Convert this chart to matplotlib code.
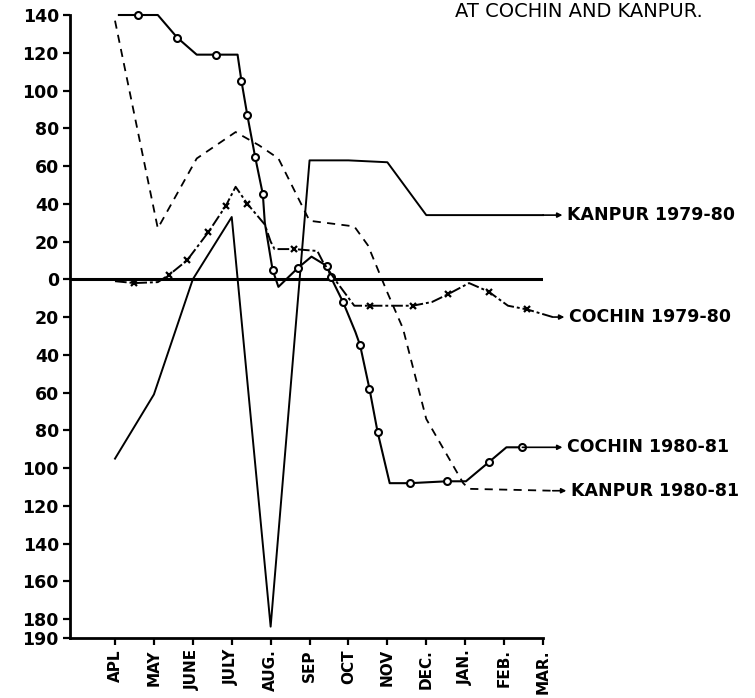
import matplotlib
matplotlib.use('Agg')
import matplotlib.pyplot as plt
from matplotlib.ticker import FuncFormatter

months = ['APL', 'MAY', 'JUNE', 'JULY', 'AUG.', 'SEP', 'OCT', 'NOV', 'DEC.', 'JAN.', 'FEB.', 'MAR.']

# Kanpur 1979-80, one value per month
kanpur79 = [-95, -61, 0, 33, -184, 63, 63, 62, 34, 34, 34, 34]

# Kanpur 1980-81
kanpur80_x = [0, 1.1, 2.1, 3.1, 3.7, 4.2, 5.0, 6.15, 6.5, 7.0, 7.4, 8.0, 8.95, 9.1, 11.25]
kanpur80_y = [137, 27, 64, 78, 71, 64, 31, 28, 18, -7, -26, -74, -108, -111, -112]

# Cochin 1980-81
cochin80_x = [0.1, 0.6, 1.1, 1.6, 2.1, 2.6, 3.15, 3.25, 3.4, 3.6, 3.8, 3.85, 4.05, 4.2, 4.7,
              5.05, 5.45, 5.55, 5.68, 5.86, 6.18, 6.3, 6.54, 6.75, 7.06, 7.58, 8.53, 9.02,
              9.6, 10.06, 10.47]
cochin80_y = [140, 140, 140, 128, 119, 119, 119, 105, 87, 65, 45, 30, 5, -4, 6,
              12, 7, 1, -4.5, -12, -28, -35, -58, -81, -108, -108, -107, -107,
              -97, -89, -89]

# Cochin 1979-80
cochin79_x = [0.0, 0.5, 1.1, 1.4, 1.85, 2.4, 2.85, 3.1, 3.4, 3.85, 4.0, 4.1, 4.6, 5.2, 5.35,
              5.7, 6.15, 6.55, 7.65, 8.15, 8.55, 9.1, 9.6, 10.1, 10.6, 11.25]
cochin79_y = [-1, -2, -1.5, 2.5, 10, 25, 39, 49, 40, 29, 20, 16, 16, 15, 9,
              -1.5, -14, -14, -14, -12, -8, -2, -6.5, -14, -16, -20]

yticks = [140, 120, 100, 80, 60, 40, 20, 0, -20, -40, -60, -80, -100, -120, -140, -160, -180, -190]

fig = plt.figure(figsize=(7.55, 6.98), dpi=100)
ax = fig.add_axes([0.0927, 0.086, 0.6265, 0.8925])

ax.axhline(0, xmin=0, xmax=0.995, color='k', lw=2.2)

ax.plot(range(len(months)), kanpur79, color='k', lw=1.4, clip_on=False)
ax.plot(kanpur80_x, kanpur80_y, color='k', lw=1.3, dashes=(4.5, 3.5), clip_on=False)
ax.plot(cochin80_x, cochin80_y, color='k', lw=1.5, marker='o', mfc='white', mec='k',
        ms=5, mew=1.5, markevery=[1, 3, 5, 7, 8, 9, 10, 12, 14, 16, 17, 19, 21, 22, 23, 25, 26, 28, 30],
        clip_on=False)
ax.plot(cochin79_x, cochin79_y, color='k', lw=1.4, dashes=(6, 1.5, 1.5, 1.5), marker='x', ms=5, mew=1.6,
        markevery=[1, 3, 4, 5, 6, 8, 12, 17, 18, 20, 22, 24], clip_on=False)


def tag(x0, y0, x1, text):
    ax.annotate('', xy=(x1, y0), xytext=(x0, y0), annotation_clip=False,
                arrowprops=dict(arrowstyle='-|>', lw=1.2, color='k', mutation_scale=7,
                                shrinkA=0, shrinkB=0))
    ax.text(x1 + 0.12, y0, text, ha='left', va='center', fontsize=12.5,
            fontweight='bold', clip_on=False)


tag(len(months) - 1, kanpur79[-1], 11.5, 'KANPUR 1979-80')
tag(cochin79_x[-1], cochin79_y[-1], 11.55, 'COCHIN 1979-80')
tag(cochin80_x[-1], cochin80_y[-1], 11.5, 'COCHIN 1980-81')
tag(kanpur80_x[-1], kanpur80_y[-1], 11.6, 'KANPUR 1980-81')

fig.text(0.603, 0.983, 'AT COCHIN AND KANPUR.', ha='left', va='center', fontsize=14)

ax.set_xlim(-1.157, 11.0)
ax.set_ylim(-190, 140)
ax.set_xticks(range(len(months)))
ax.set_xticklabels(months, rotation=90, fontsize=11, fontweight='bold')
ax.set_yticks(yticks)
ax.yaxis.set_major_formatter(FuncFormatter(lambda v, p: f"{abs(int(round(v)))}"))
for lab in ax.get_yticklabels():
    lab.set_fontweight('bold')
    lab.set_fontsize(12.5)

for s in ['top', 'right']:
    ax.spines[s].set_visible(False)
for s in ['left', 'bottom']:
    ax.spines[s].set_linewidth(2.0)
ax.tick_params(direction='out', length=5, width=1.6, pad=3)

fig.savefig('out.png', dpi=100)
